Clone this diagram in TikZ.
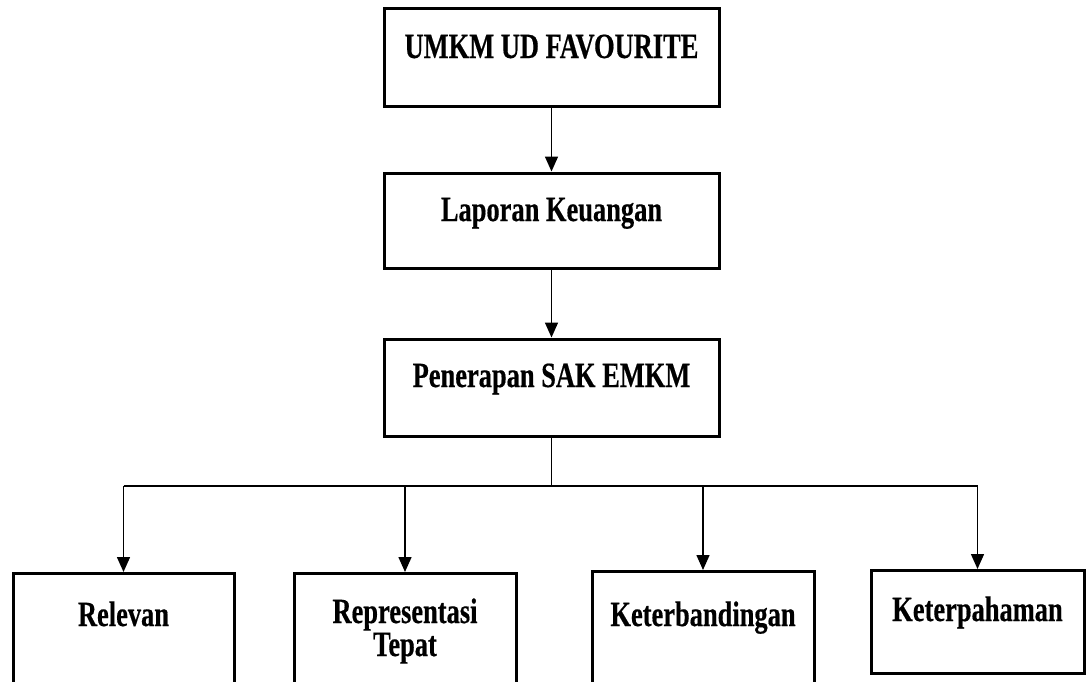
\documentclass[tikz,border=0pt]{standalone}
\usepackage{fontspec}
\setmainfont{Liberation Serif}[FakeStretch=0.745, BoldFeatures={FakeBold=0.4}]
\usetikzlibrary{arrows.meta}
\tikzset{
  box/.style={draw=black, line width=3pt, rectangle, inner sep=0pt, fill=white},
  lbl/.style={font=\fontsize{35.5}{33}\selectfont\bfseries, inner sep=0pt, align=center, text=black},
  conn/.style={draw=black, line width=1.5pt},
  arr/.style={conn, -{Triangle[width=13pt,length=15pt]}}
}
\begin{document}
\begin{tikzpicture}[x=1pt,y=-1pt]
\useasboundingbox (0,0) rectangle (1087,681);
\clip (0,0) rectangle (1087,681);
\fill[white] (0,0) rectangle (1087,681);
% top chain
\node[box, minimum width=335pt, minimum height=98pt] (a) at (551.5,57) {};
\node[lbl, anchor=base] (ta) at (551.5,58) {UMKM UD FAVOURITE};
\node[box, minimum width=335pt, minimum height=95pt] (b) at (551.5,220.5) {};
\node[lbl, anchor=base] (tb) at (551.5,221) {Laporan Keuangan};
\node[box, minimum width=335pt, minimum height=97pt] (c) at (551.5,387.5) {};
\node[lbl, anchor=base] (tc) at (551.5,387) {Penerapan SAK EMKM};
% bottom row
\node[box, minimum width=221pt, minimum height=160pt] (r1) at (123.5,653.5) {};
\node[lbl, anchor=base] (t1) at (123.5,626) {Relevan};
\node[box, minimum width=222pt, minimum height=160pt] (r2) at (405,653.5) {};
\node[lbl, anchor=base] (t2) at (405,656) {Representasi\\Tepat};
\node[box, minimum width=222pt, minimum height=160pt] (r3) at (703,651.5) {};
\node[lbl, anchor=base] (t3) at (703,626) {Keterbandingan};
\node[box, minimum width=213pt, minimum height=103pt] (r4) at (977.5,622) {};
\node[lbl, anchor=base] (t4) at (977.5,621) {Keterpahaman};
% connectors
\coordinate (j) at (551.5,486);
\draw[arr] (a.south) -- (b.north);
\draw[arr] (b.south) -- (c.north);
\draw[conn] (c.south) -- (j);
\draw[conn] (r1.north |- j) -- (r4.north |- j);
\draw[arr] (r1.north |- j) -- (r1.north);
\draw[arr] (r2.north |- j) -- (r2.north);
\draw[arr] (r3.north |- j) -- (r3.north);
\draw[arr] (r4.north |- j) -- (r4.north);
\end{tikzpicture}
\end{document}
